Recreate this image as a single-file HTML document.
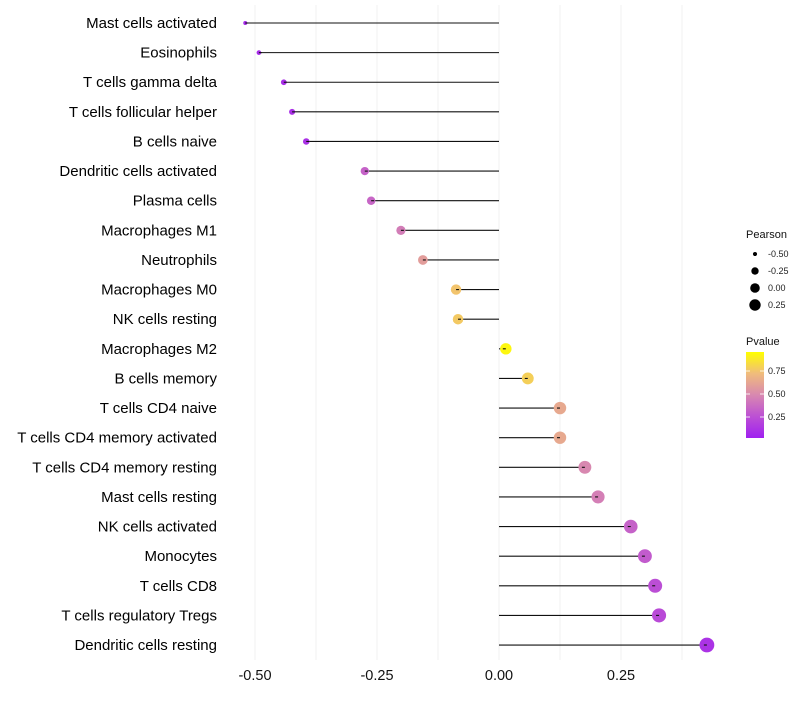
<!DOCTYPE html>
<html><head><meta charset="utf-8"><style>
body{margin:0;background:#fff;font-family:"Liberation Sans",sans-serif}
</style></head><body>
<svg id="c" width="800" height="700" xmlns="http://www.w3.org/2000/svg"></svg>
<script>
const categories=["Mast cells activated","Eosinophils","T cells gamma delta","T cells follicular helper","B cells naive","Dendritic cells activated","Plasma cells","Macrophages M1","Neutrophils","Macrophages M0","NK cells resting","Macrophages M2","B cells memory","T cells CD4 naive","T cells CD4 memory activated","T cells CD4 memory resting","Mast cells resting","NK cells activated","Monocytes","T cells CD8","T cells regulatory  Tregs","Dendritic cells resting"];
const pearson=[-0.520,-0.492,-0.441,-0.424,-0.395,-0.275,-0.262,-0.201,-0.156,-0.088,-0.084,0.014,0.059,0.125,0.125,0.176,0.203,0.270,0.299,0.320,0.328,0.426];
const pvalue=[0.05,0.06,0.07,0.08,0.09,0.33,0.35,0.45,0.6,0.78,0.8,0.97,0.82,0.66,0.66,0.5,0.46,0.33,0.3,0.24,0.22,0.1];
const xTicks=[-0.5,-0.25,0,0.25];
const xTickLabels=["-0.50","-0.25","0.00","0.25"];
const gridVals=[-0.5,-0.375,-0.25,-0.125,0,0.125,0.25,0.375];
const sizeLegendVals=[-0.5,-0.25,0,0.25];
const sizeLegendLabels=["-0.50","-0.25","0.00","0.25"];
const colorLegendVals=[0.75,0.5,0.25];
const colorLegendLabels=["0.75","0.50","0.25"];

const svg=document.getElementById('c');const NS="http://www.w3.org/2000/svg";
function mk(t,a,p){const e=document.createElementNS(NS,t);for(const k in a)e.setAttribute(k,a[k]);(p||svg).appendChild(e);return e;}
const xS=v=>499+v*488;
const yS=i=>23+i*29.62;
const rS=v=>Math.sqrt(Math.max(9,16+215*(v+0.52)))/2;
const rL=v=>Math.sqrt(Math.max(9,14+150*(v+0.52)))/2;
const stops=[[0,[160,32,240]],[0.25,[188,80,212]],[0.5,[216,136,176]],[0.75,[240,188,124]],[1,[255,255,0]]];
function col(p){for(let i=1;i<stops.length;i++){if(p<=stops[i][0]){const [a,ca]=stops[i-1],[b,cb]=stops[i];const t=(p-a)/(b-a);return `rgb(${ca.map((c,j)=>Math.round(c+(cb[j]-c)*t)).join(',')})`;}}return 'rgb(255,255,0)';}

gridVals.forEach(v=>{const l=mk('line',{x1:xS(v),x2:xS(v),y1:5,y2:660,stroke:'#f0f0f0','stroke-width':1});

});
xTicks.forEach((v,i)=>{const t=mk('text',{x:xS(v),y:680,'text-anchor':'middle','font-size':14.5,fill:'#111'});t.textContent=xTickLabels[i];

});
categories.forEach((c,i)=>{const y=yS(i);
const t=mk('text',{x:217,y:y+5,'text-anchor':'end','font-size':15,fill:'#000'});t.textContent=c;


const l=mk('line',{x1:xS(0),x2:xS(pearson[i]),y1:y,y2:y,stroke:'#111','stroke-width':1.1});


const d=mk('circle',{cx:xS(pearson[i]),cy:y,r:rS(pearson[i]),fill:col(pvalue[i])});


const s=mk('line',{x1:xS(pearson[i]),x2:xS(pearson[i])+(pearson[i]<0?3:-3),y1:y,y2:y,stroke:'#111','stroke-width':1.1});


});
let t=mk('text',{x:746,y:238,'font-size':11,fill:'#111'});t.textContent='Pearson';


sizeLegendVals.forEach((v,i)=>{const y=254+i*17;
const c=mk('circle',{cx:755,cy:y,r:rL(v),fill:'#000'});


const tt=mk('text',{x:768,y:y+3,'font-size':9,fill:'#222'});tt.textContent=sizeLegendLabels[i];

});
t=mk('text',{x:746,y:345,'font-size':11,fill:'#111'});t.textContent='Pvalue';


const defs=mk('defs',{});const g=mk('linearGradient',{id:'pg',x1:0,y1:1,x2:0,y2:0},defs);
stops.forEach(s=>mk('stop',{offset:s[0],'stop-color':col(s[0])},g));
const bar=mk('rect',{x:746,y:352,width:18,height:86,fill:'url(#pg)'});


colorLegendVals.forEach((v,i)=>{const y=440-v*92;
mk('line',{x1:746,x2:750,y1:y,y2:y,stroke:'#fff','stroke-width':0.8});mk('line',{x1:760,x2:764,y1:y,y2:y,stroke:'#fff','stroke-width':0.8});
const tt=mk('text',{x:768,y:y+3,'font-size':9,fill:'#222'});tt.textContent=colorLegendLabels[i];

});
</script>
</body></html>
